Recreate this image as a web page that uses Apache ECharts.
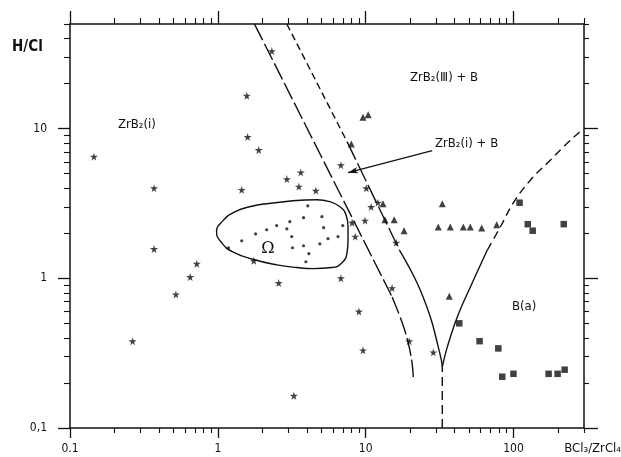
<!DOCTYPE html>
<html>
<head>
<meta charset="utf-8">
<script src="https://cdn.jsdelivr.net/npm/echarts@6/dist/echarts.min.js"></script>
<style>
  html, body { margin: 0; padding: 0; background: #fff; }
  #chart { width: 621px; height: 457px; }
</style>
</head>
<body>
<div id="chart"></div>
<script>
// ---------- axis ticks ----------
const xMajorTicks = [0.1, 1, 10, 100];
const xTickLabels = ['0.1', '1', '10', '100'];
const xMinorTicks = [0.2, 0.3, 0.4, 0.5, 0.6, 0.7, 0.8, 0.9, 2, 3, 4, 5, 6, 7, 8, 9, 20, 30, 40, 50, 60, 70, 80, 90, 200, 300];
const yMajorTicks = [0.1, 1, 10];
const yTickLabels = ['0,1', '1', '10'];
const yMinorTicks = [0.2, 0.3, 0.4, 0.5, 0.6, 0.7, 0.8, 0.9, 2, 3, 4, 5, 6, 7, 8, 9, 20, 30, 40, 50];

// ---------- data points [BCl3/ZrCl4, H/Cl] ----------
const stars = [
  [0.145, 6.5], [0.37, 4.0], [0.37, 1.57], [0.265, 0.38], [0.52, 0.78], [0.65, 1.02], [0.72, 1.25],
  [1.75, 1.31], [2.58, 0.93], [3.27, 0.164], [2.32, 33], [1.57, 16.6], [1.59, 8.8], [1.89, 7.2],
  [1.45, 3.9], [2.93, 4.6], [3.64, 5.1], [3.53, 4.1], [4.6, 3.85], [6.8, 5.7], [10.1, 4.0],
  [10.9, 3.0], [12.1, 3.2], [9.9, 2.43], [8.1, 2.35], [8.5, 1.9], [6.8, 1.0], [15.1, 0.86],
  [16.1, 1.73], [9.0, 0.6], [9.6, 0.33], [19.7, 0.38], [28.7, 0.32]
];
const triangles = [
  [9.6, 11.9], [10.4, 12.4], [8.0, 7.9], [13.1, 3.15], [13.5, 2.46], [15.6, 2.46], [18.2, 2.08],
  [33, 3.15], [31, 2.2], [37.4, 2.2], [45.8, 2.2], [51, 2.2], [61, 2.17], [77, 2.28], [36.8, 0.76]
];
const squares = [
  [110, 3.2], [125, 2.3], [135, 2.08], [219, 2.3], [43, 0.5], [59, 0.38], [79, 0.34],
  [84, 0.22], [100, 0.23], [173, 0.23], [199, 0.23], [222, 0.245]
];
const dots = [
  [4.06, 3.05], [3.8, 2.54], [5.06, 2.58], [3.07, 2.39], [2.93, 2.14], [2.5, 2.25], [2.14, 2.11],
  [1.8, 1.98], [1.45, 1.78], [1.18, 1.6], [3.16, 1.9], [5.2, 2.18], [5.56, 1.84], [4.9, 1.7],
  [6.5, 1.9], [7.0, 2.25], [3.2, 1.6], [3.8, 1.65], [4.13, 1.46], [3.94, 1.29]
];

// ---------- boundary curves ----------
const leftLineStraight = [[1.77, 50], [15.1, 0.751]];
const leftLineCurve = [[15.1, 0.751], [17.7, 0.503], [19.4, 0.371], [20.6, 0.272], [21, 0.219]];
const rightLineTop = [[2.93, 50], [7.48, 8.19]];
const rightLineMid = [[7.48, 8.19], [16.9, 1.55]];
const rightLineLow = [[16.9, 1.55], [22.3, 0.93], [27.4, 0.552], [30.5, 0.371], [32.5, 0.285], [33, 0.256]];
const cuspVertical = [[33, 0.1], [33, 0.256]];
const boronSolid = [[33, 0.256], [35.7, 0.348], [41.7, 0.552], [51.2, 0.877], [66.7, 1.55]];
const boronDashed = [[66.7, 1.55], [81.7, 2.21], [100, 3.2], [131, 4.56], [171, 5.93], [219, 7.58], [277, 9.4], [300, 9.9]];
const omegaLoop = [
  [3.21, 3.30], [4.68, 3.35], [5.73, 3.25], [6.70, 3.01], [7.36, 2.66], [7.6, 2.21], [7.6, 1.81],
  [7.48, 1.48], [6.92, 1.27], [5.91, 1.18], [4.40, 1.16], [3.42, 1.18], [2.51, 1.23], [1.77, 1.33],
  [1.26, 1.50], [1.06, 1.73], [0.98, 2.05], [1.08, 2.42], [1.30, 2.78], [1.70, 3.03], [2.14, 3.15], [3.21, 3.30]
];
const arrowFrom = [28.2, 7.13];
const arrowTo = [7.6, 5.08];

// ---------- helpers ----------
const INK = '#111';
const FONT = "'DejaVu Sans Condensed', 'Liberation Sans Narrow', 'DejaVu Sans', sans-serif";
const STAR = 'path://M50,0 L61,35 L98,35 L68,57 L79,91 L50,70 L21,91 L32,57 L2,35 L39,35 Z';

function labelFor(ticks, labels) {
  return function (v) {
    const i = ticks.findIndex(t => Math.abs(t - v) < t * 1e-6);
    return i >= 0 ? labels[i] : '';
  };
}
function axisBase(min, max, pos) {
  return {
    type: 'log', logBase: 10, min: min, max: max, position: pos,
    splitLine: { show: false }, minorTick: { show: false }, minorSplitLine: { show: false },
    axisPointer: { show: false }
  };
}
function majorAxis(min, max, pos, ticks, labels, tickLen, showLabel, margin) {
  const a = axisBase(min, max, pos);
  a.axisLine = { show: true, onZero: false, lineStyle: { color: INK, width: 1.5 } };
  a.axisTick = { show: true, inside: false, customValues: ticks, length: tickLen, lineStyle: { color: INK, width: 1.3 } };
  a.axisLabel = showLabel ? {
    show: true, customValues: ticks, formatter: labelFor(ticks, labels),
    color: INK, fontSize: 12, fontFamily: FONT, margin: margin
  } : { show: false };
  return a;
}
function minorAxis(min, max, pos, ticks, tickLen) {
  const a = axisBase(min, max, pos);
  a.axisLine = { show: false, onZero: false };
  a.axisTick = { show: true, inside: false, customValues: ticks, length: tickLen, lineStyle: { color: INK, width: 1.1 } };
  a.axisLabel = { show: false };
  return a;
}

const XMIN = 0.0999, XMAX = 300.2, YMIN = 0.0999, YMAX = 50.05;

function lineSeries(data, dash, smooth) {
  return {
    type: 'line', xAxisIndex: 0, yAxisIndex: 0, data: data, symbol: 'none',
    smooth: smooth || false, silent: true, z: 3,
    lineStyle: { color: INK, width: 1.4, type: dash || 'solid' }
  };
}
function scatterSeries(data, symbol, size) {
  return {
    type: 'scatter', xAxisIndex: 0, yAxisIndex: 0, data: data, symbol: symbol, symbolSize: size,
    itemStyle: { color: INK }, silent: true, z: 4
  };
}

const chart = echarts.init(document.getElementById('chart'), null, { renderer: 'canvas' });

const dotsSeries = scatterSeries(dots, 'circle', 3.2);
dotsSeries.markLine = {
  silent: true, symbol: ['none', 'arrow'], symbolSize: [5, 10],
  label: { show: false },
  lineStyle: { color: INK, width: 1.2, type: 'solid' },
  data: [[{ coord: arrowFrom }, { coord: arrowTo }]]
};

chart.setOption({
  animation: false,
  backgroundColor: '#fff',
  grid: { left: 70, right: 37, top: 24, bottom: 29, containLabel: false },
  xAxis: [
    majorAxis(XMIN, XMAX, 'bottom', xMajorTicks, xTickLabels, 10, true, 15),
    minorAxis(XMIN, XMAX, 'bottom', xMinorTicks, 5),
    majorAxis(XMIN, XMAX, 'top', xMajorTicks, xTickLabels, 13, false, 0),
    minorAxis(XMIN, XMAX, 'top', xMinorTicks, 6)
  ],
  yAxis: [
    majorAxis(YMIN, YMAX, 'left', yMajorTicks, yTickLabels, 12, true, 23),
    minorAxis(YMIN, YMAX, 'left', yMinorTicks, 6),
    majorAxis(YMIN, YMAX, 'right', yMajorTicks, yTickLabels, 14, false, 0),
    minorAxis(YMIN, YMAX, 'right', yMinorTicks, 5)
  ],
  series: [
    lineSeries(leftLineStraight, [18, 4]),
    lineSeries(leftLineCurve, [18, 4], 0.4),
    lineSeries(rightLineTop, [7, 4]),
    lineSeries(rightLineMid, [20, 4]),
    lineSeries(rightLineLow, 'solid', 0.4),
    lineSeries(cuspVertical, [9, 5]),
    lineSeries(boronSolid, 'solid', 0.4),
    lineSeries(boronDashed, [8, 5], 0.4),
    lineSeries(omegaLoop, 'solid', 0.5),
    scatterSeries(stars, STAR, 8),
    scatterSeries(triangles, 'triangle', 7),
    scatterSeries(squares, 'rect', 6.5),
    dotsSeries
  ],
  graphic: [
    { type: 'text', x: 12, y: 47, style: { text: 'H/Cl', fontSize: 15, fontWeight: 'bold', fontFamily: FONT, fill: INK, align: 'left', verticalAlign: 'middle' } },
    { type: 'text', x: 621, y: 449, style: { text: 'BCl₃/ZrCl₄', fontSize: 13, fontFamily: FONT, fill: INK, align: 'right', verticalAlign: 'middle' } },
    { type: 'text', x: 118, y: 125, style: { text: 'ZrB₂(i)', fontSize: 13, fontFamily: FONT, fill: INK, align: 'left', verticalAlign: 'middle' } },
    { type: 'text', x: 410, y: 78, style: { text: 'ZrB₂(Ⅲ) + B', fontSize: 13, fontFamily: FONT, fill: INK, align: 'left', verticalAlign: 'middle' } },
    { type: 'text', x: 435, y: 144, style: { text: 'ZrB₂(i) + B', fontSize: 13, fontFamily: FONT, fill: INK, align: 'left', verticalAlign: 'middle' } },
    { type: 'text', x: 512, y: 307, style: { text: 'B(a)', fontSize: 13, fontFamily: FONT, fill: INK, align: 'left', verticalAlign: 'middle' } },
    { type: 'text', x: 268, y: 249, style: { text: 'Ω', fontSize: 16, fontFamily: "'DejaVu Serif', 'Liberation Serif', serif", fill: INK, align: 'center', verticalAlign: 'middle' } }
  ]
});
</script>
</body>
</html>
